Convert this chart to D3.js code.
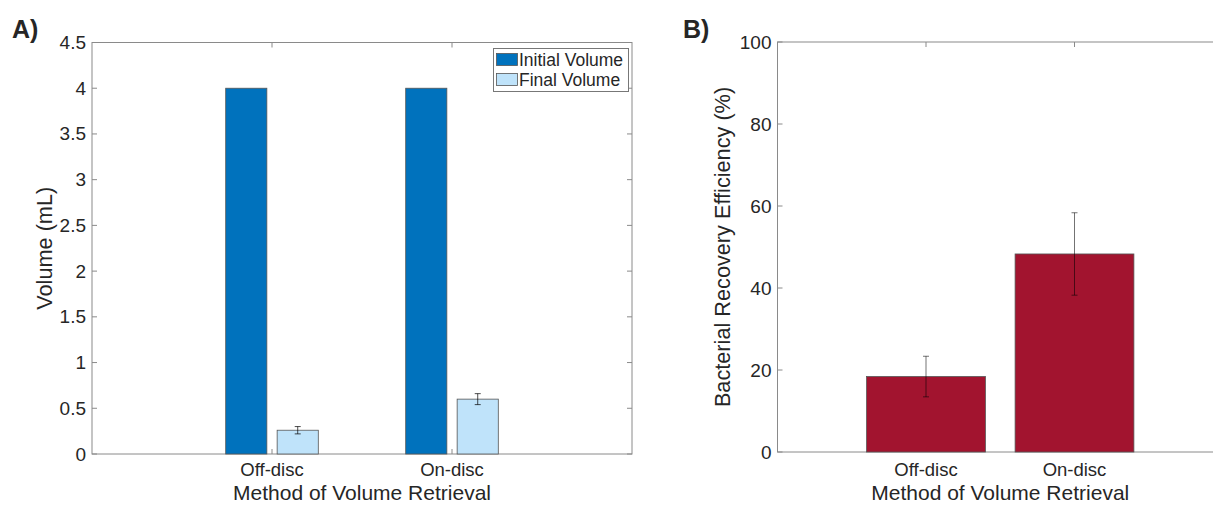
<!DOCTYPE html>
<html>
<head>
<meta charset="utf-8">
<script src="https://cdn.jsdelivr.net/npm/d3@7"></script>
<style>
body { margin: 0; background: #fff; }
text { font-family: "Liberation Sans", Arial, sans-serif; fill: #262626; }
</style>
</head>
<body>
<div id="chart"></div>
<script>
var categories = ['Off-disc', 'On-disc'];
var seriesNames = ['Initial Volume', 'Final Volume'];
var initialVol = [4, 4];
var finalVol = [0.26, 0.60];
var finalErr = [0.04, 0.06];
var recovery = [18.4, 48.3];
var recoveryErr = [4.95, 10.05];
var volTicks = [0, 0.5, 1, 1.5, 2, 2.5, 3, 3.5, 4, 4.5];
var recTicks = [0, 20, 40, 60, 80, 100];

var blue = '#0072BD', lightBlue = '#BFE3FA', red = '#A2142F';
var axisColor = '#8a8a8a';

var svg = d3.select('#chart').append('svg')
    .attr('width', 1213)
    .attr('height', 506);

//draws the box, ticks and labels of one matlab-style axes
function drawAxes(x, y, yTicks, yLabel, yLabelX) {
    var x0 = x.range()[0], x1 = x.range()[1],
        y0 = y.range()[0], y1 = y.range()[1];
    var g = svg.append('g');

    // box
    g.append('rect')
        .attr('x', x0).attr('y', y1)
        .attr('width', x1 - x0).attr('height', y0 - y1)
        .attr('fill', 'none')
        .attr('stroke', axisColor)
        .attr('stroke-width', 1);

    // y ticks left + right, inward
    yTicks.forEach(function (t) {
        g.append('line').attr('x1', x0).attr('x2', x0 + 5)
            .attr('y1', y(t)).attr('y2', y(t)).attr('stroke', axisColor);
        g.append('line').attr('x1', x1).attr('x2', x1 - 5)
            .attr('y1', y(t)).attr('y2', y(t)).attr('stroke', axisColor);
        g.append('text')
            .attr('x', x0 - 6).attr('y', y(t) + 6.5)
            .attr('text-anchor', 'end')
            .attr('font-size', '19px')
            .text(t);
    });

    // x ticks bottom + top
    categories.forEach(function (c, i) {
        var px = x(i + 1);
        g.append('line').attr('x1', px).attr('x2', px)
            .attr('y1', y0).attr('y2', y0 - 5).attr('stroke', axisColor);
        g.append('line').attr('x1', px).attr('x2', px)
            .attr('y1', y1).attr('y2', y1 + 5).attr('stroke', axisColor);
        g.append('text')
            .attr('x', px).attr('y', 476)
            .attr('text-anchor', 'middle')
            .attr('font-size', '18.5px')
            .text(c);
    });

    g.append('text')
        .attr('x', (x0 + x1) / 2).attr('y', 500)
        .attr('text-anchor', 'middle')
        .attr('font-size', '21px')
        .text('Method of Volume Retrieval');

    g.append('text')
        .attr('transform', 'translate(' + yLabelX + ',' + (y0 + y1) / 2 + ') rotate(-90)')
        .attr('text-anchor', 'middle')
        .attr('font-size', '21.7px')
        .text(yLabel);
    return g;
}

function errorBar(g, px, yTop, yBot, cap, color, opacity) {
    g.append('line').attr('x1', px).attr('x2', px)
        .attr('y1', yTop).attr('y2', yBot)
        .attr('stroke', color).attr('stroke-opacity', opacity);
    [yTop, yBot].forEach(function (yy) {
        g.append('line').attr('x1', px - cap).attr('x2', px + cap)
            .attr('y1', yy).attr('y2', yy)
            .attr('stroke', color).attr('stroke-opacity', opacity);
    });
}

/* Panel A */
var xA = d3.scaleLinear().domain([0, 3]).range([92, 632]);
var yA = d3.scaleLinear().domain([0, 4.5]).range([454, 42.5]);
var gA = drawAxes(xA, yA, volTicks, 'Volume (mL)', 52);

var offset = 0.1429, bw = 0.2286;
var bars = [
    { vals: initialVol, off: -offset, color: blue },
    { vals: finalVol, off: offset, color: lightBlue }
];
bars.forEach(function (s) {
    gA.selectAll(null).data(s.vals).enter().append('rect')
        .attr('x', function (d, i) { return xA(i + 1 + s.off - bw / 2); })
        .attr('width', xA(bw) - xA(0))
        .attr('y', function (d) { return yA(d); })
        .attr('height', function (d) { return yA(0) - yA(d); })
        .attr('fill', s.color)
        .attr('stroke', '#555')
        .attr('stroke-width', 0.8);
});
finalVol.forEach(function (v, i) {
    errorBar(gA, xA(i + 1 + offset), yA(v + finalErr[i]), yA(v - finalErr[i]), 3, '#000', 0.7);
});

// legend
var lg = gA.append('g');
lg.append('rect').attr('x', 493.5).attr('y', 48.5).attr('width', 135).attr('height', 43)
    .attr('fill', '#fff').attr('stroke', '#777');
seriesNames.forEach(function (n, i) {
    lg.append('rect').attr('x', 496.5).attr('y', 53.5 + i * 20).attr('width', 21).attr('height', 12)
        .attr('fill', i === 0 ? blue : lightBlue).attr('stroke', '#555').attr('stroke-width', 0.8);
    lg.append('text').attr('x', 519).attr('y', 66 + i * 20)
        .attr('font-size', '17.5px').attr('fill', '#000').text(n);
});

/* Panel B */
var xB = d3.scaleLinear().domain([0, 3]).range([777.5, 1223]);
var yB = d3.scaleLinear().domain([0, 100]).range([452, 42]);
var gB = drawAxes(xB, yB, recTicks, 'Bacterial Recovery Efficiency (%)', 730);

gB.selectAll(null).data(recovery).enter().append('rect')
    .attr('x', function (d, i) { return xB(i + 1 - 0.4); })
    .attr('width', xB(0.8) - xB(0))
    .attr('y', function (d) { return yB(d); })
    .attr('height', function (d) { return yB(0) - yB(d); })
    .attr('fill', red)
    .attr('stroke', '#555')
    .attr('stroke-width', 0.8);
recovery.forEach(function (v, i) {
    errorBar(gB, xB(i + 1), yB(v + recoveryErr[i]), yB(v - recoveryErr[i]), 3, '#000', 0.55);
});

// panel letters
svg.append('text').attr('x', 12).attr('y', 38)
    .attr('font-size', '25px').attr('font-weight', 'bold').attr('fill', '#000').text('A)');
svg.append('text').attr('x', 683).attr('y', 38)
    .attr('font-size', '25px').attr('font-weight', 'bold').attr('fill', '#000').text('B)');
</script>
</body>
</html>
